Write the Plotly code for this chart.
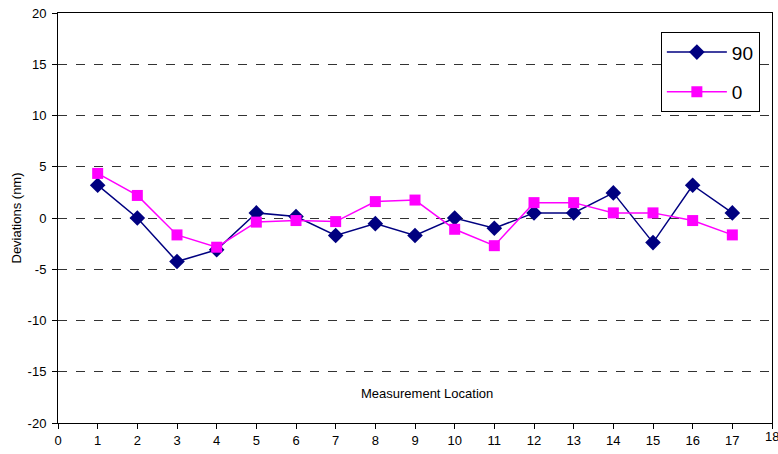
import plotly.graph_objects as go

locations = list(range(1, 18))
dev_90 = [3.2, 0.0, -4.25, -3.1, 0.5, 0.15, -1.7, -0.55, -1.7, 0.0, -1.0, 0.5, 0.5, 2.45, -2.4, 3.2, 0.5]
dev_0 = [4.35, 2.2, -1.65, -2.85, -0.4, -0.25, -0.35, 1.6, 1.75, -1.1, -2.7, 1.5, 1.5, 0.5, 0.5, -0.25, -1.65]
x_ticks = list(range(0, 19))
y_ticks = list(range(-20, 21, 5))
y_tick_labels = [str(v) for v in y_ticks]

fig = go.Figure()
fig.add_trace(go.Scatter(
    x=locations, y=dev_90, name="90", mode="lines+markers",
    line=dict(color="#000080", width=1.5),
    marker=dict(symbol="diamond", size=12, color="#000080"),
    legendgroup="a"))
fig.add_trace(go.Scatter(
    x=locations, y=dev_0, name="0", mode="lines+markers",
    line=dict(color="#FF00FF", width=1.5),
    marker=dict(symbol="square", size=11, color="#FF00FF"),
    legendgroup="b"))

fig.update_layout(
    width=778, height=454,
    margin=dict(l=58, r=6, t=13, b=31),
    paper_bgcolor="white", plot_bgcolor="white",
    font=dict(family="Liberation Sans, Arial, sans-serif", size=13, color="black"),
    showlegend=True,
    legend=dict(
        x=0.983, y=0.953, xanchor="right", yanchor="top",
        bordercolor="black", borderwidth=1, bgcolor="white",
        font=dict(size=19), traceorder="grouped", tracegroupgap=12,
        itemwidth=60,
    ),
    xaxis=dict(
        range=[0, 18], tickmode="array", tickvals=x_ticks,
        showgrid=False, zeroline=False,
        showline=True, linecolor="black", linewidth=1, mirror=True,
        ticks="outside", ticklen=5, tickcolor="black",
        tickfont=dict(size=13), automargin=False,
    ),
    yaxis=dict(
        range=[-20, 20], tickmode="array", tickvals=y_ticks, ticktext=y_tick_labels,
        showgrid=True, gridcolor="#333333", griddash="dash", gridwidth=1,
        zeroline=False,
        showline=True, linecolor="black", linewidth=1, mirror=True,
        ticks="outside", ticklen=5, tickcolor="black",
        tickfont=dict(size=13), ticklabelstandoff=3, automargin=False,
        title=dict(text="Deviations (nm)", font=dict(size=13), standoff=3),
    ),
    annotations=[
        dict(text="Measurement Location", x=9.3, y=-17.1, xref="x", yref="y",
             showarrow=False, font=dict(size=13)),
        dict(text="18", x=18, y=-0.034, xref="x", yref="paper", yanchor="middle",
             showarrow=False, font=dict(size=13)),
    ],
)

fig.write_html("out.html", config={"displayModeBar": False},
               post_script="document.body.style.margin='0';")
